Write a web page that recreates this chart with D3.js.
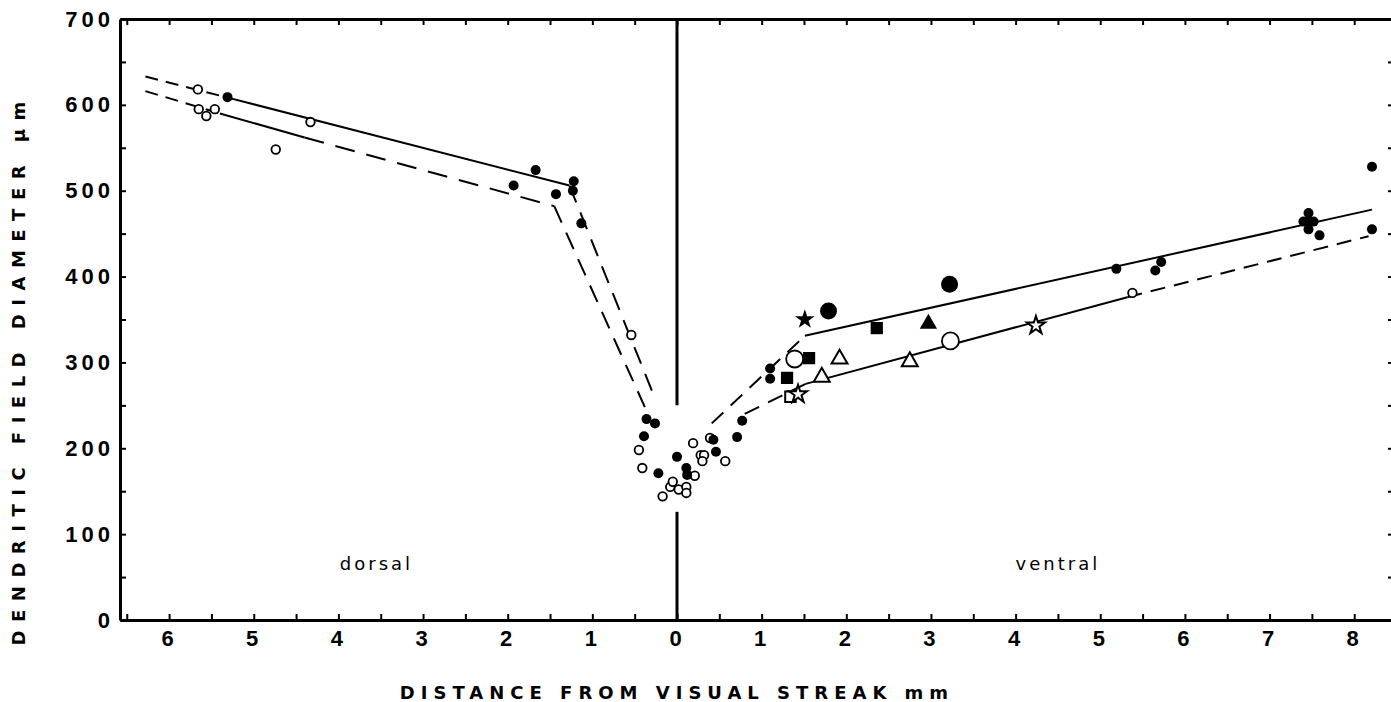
<!DOCTYPE html>
<html lang="en">
<head>
<meta charset="UTF-8">
<title>Dendritic field diameter vs distance from visual streak</title>
<script src="https://d3js.org/d3.v7.min.js"></script>
<style>
  body { margin: 0; background: #fff; }
  svg { display: block; font-family: "DejaVu Sans", sans-serif; }
  .axis path.domain { stroke: #000; stroke-width: 3; }
  .axis .tick line { stroke: #000; stroke-width: 2; }
  .labels path.domain { display: none; }
  .labels text { font-size: 22px; font-weight: bold; letter-spacing: 4px; fill: #000; }
  .title { font-size: 18px; font-weight: bold; fill: #000; }
  .region { font-size: 18px; letter-spacing: 3px; fill: #000; }
  .fit { fill: none; stroke: #000; }
</style>
</head>
<body>
<div id="chart"></div>
<script>
  // distance in mm: dorsal side negative, ventral side positive
  const xTickValues = [-6, -5, -4, -3, -2, -1, 0, 1, 2, 3, 4, 5, 6, 7, 8];
  const xTickLabels = ["6", "5", "4", "3", "2", "1", "0", "1", "2", "3", "4", "5", "6", "7", "8"];
  const yTickValues = [0, 100, 200, 300, 400, 500, 600, 700];

  const smallFilled = [
    [-5.31, 609], [-1.93, 506], [-1.67, 524], [-1.43, 496], [-1.22, 511], [-1.23, 500], [-1.13, 462],
    [-0.39, 214], [-0.36, 234], [-0.26, 229], [-0.22, 171],
    [0.00, 190], [0.11, 177], [0.12, 169], [0.43, 210], [0.46, 196], [0.71, 213], [0.77, 232],
    [1.10, 293], [1.10, 281],
    [5.19, 409], [5.65, 407], [5.72, 417],
    [7.46, 474], [7.40, 464], [7.46, 464], [7.52, 464], [7.46, 455], [7.59, 448],
    [8.21, 528], [8.21, 455]
  ];
  const smallOpen = [
    [-5.66, 618], [-5.65, 595], [-5.56, 587], [-5.46, 595], [-4.74, 548], [-4.33, 580], [-0.54, 332],
    [-0.45, 198], [-0.41, 177], [-0.17, 144], [-0.08, 155], [-0.05, 161], [0.02, 152], [0.11, 155],
    [0.11, 148], [0.21, 168], [0.19, 206], [0.28, 192], [0.32, 192], [0.30, 185], [0.39, 212],
    [0.57, 185], [5.38, 381]
  ];
  const bigFilled = [[1.79, 360], [3.22, 391]];
  const bigOpen = [[1.39, 304], [3.23, 325]];
  const filledSquares = [[1.30, 282], [1.56, 305], [2.36, 340]];
  const openSquares = [[1.34, 260]];
  const filledTriangles = [[2.97, 345]];
  const openTriangles = [[1.71, 283], [1.92, 304], [2.75, 301]];
  const filledStars = [[1.51, 350]];
  const openStars = [[1.43, 263], [4.24, 343]];

  // fitted lines, split where the pen changes from dashed to solid
  const dorsalUpperDash = [[-6.28, 633], [-5.33, 609]];
  const dorsalUpperSolid = [[-5.33, 609], [-1.27, 506]];
  const dorsalUpperDrop = [[-1.27, 506], [-0.26, 258]];
  const dorsalLowerDashA = [[-6.28, 616], [-5.40, 590]];
  const dorsalLowerSolid = [[-5.40, 590], [-4.40, 562]];
  const dorsalLowerDashB = [[-4.40, 562], [-1.45, 482]];
  const dorsalLowerDrop = [[-1.45, 482], [-0.38, 248]];
  const ventralUpperDash = [[0.41, 229], [1.51, 331]];
  const ventralUpperSolid = [[1.51, 331], [8.21, 478]];
  const ventralLowerDashA = [[0.80, 240], [1.52, 275]];
  const ventralLowerSolid = [[1.52, 275], [5.32, 376]];
  const ventralLowerDashB = [[5.32, 376], [8.17, 447]];
  const streakTop = [[0, 700], [0, 250]];
  const streakBottom = [[0, 126], [0, 0]];

  const svgWidth = 1391, svgHeight = 702;
  const margin = { left: 120, right: 1394, top: 19, bottom: 620 };

  const x = d3.scaleLinear().domain([-6.58, 8.47]).range([margin.left, margin.right]);
  const y = d3.scaleLinear().domain([0, 700]).range([margin.bottom, margin.top]);

  const svg = d3.select("#chart").append("svg")
    .attr("width", svgWidth)
    .attr("height", svgHeight);

  svg.append("rect").attr("width", svgWidth).attr("height", svgHeight).attr("fill", "#fff");

  const minorX = d3.range(-6.5, 8.01, 0.5);
  const minorY = d3.range(0, 701, 50);

  svg.append("g").attr("class", "axis")
    .attr("transform", `translate(0,${margin.bottom})`)
    .call(d3.axisBottom(x).tickValues(minorX).tickSizeInner(-6).tickSizeOuter(0).tickFormat(""));
  svg.append("g").attr("class", "axis")
    .attr("transform", `translate(0,${margin.top})`)
    .call(d3.axisTop(x).tickValues(minorX).tickSizeInner(-6).tickSizeOuter(0).tickFormat(""));
  svg.append("g").attr("class", "axis")
    .attr("transform", `translate(${margin.left},0)`)
    .call(d3.axisLeft(y).tickValues(minorY).tickSizeInner(-6).tickSizeOuter(0).tickFormat(""));
  svg.append("g").attr("class", "axis")
    .attr("transform", `translate(${margin.right},0)`)
    .call(d3.axisRight(y).tickValues(minorY).tickSizeInner(-6).tickSizeOuter(0).tickFormat(""));

  svg.append("g").attr("class", "labels")
    .attr("transform", `translate(0,${margin.bottom})`)
    .call(d3.axisBottom(x).tickValues(xTickValues).tickSize(0).tickPadding(10)
      .tickFormat((d, i) => xTickLabels[i]))
    .selectAll(".tick line").remove();
  svg.append("g").attr("class", "labels")
    .attr("transform", `translate(${margin.left},0)`)
    .call(d3.axisLeft(y).tickValues(yTickValues).tickSize(0).tickPadding(6))
    .selectAll(".tick line").remove();

  // visual streak line
  const line = d3.line().x(d => x(d[0])).y(d => y(d[1]));
  [streakTop, streakBottom].forEach(seg => {
    svg.append("path").datum(seg).attr("class", "fit")
      .style("stroke-width", 3).attr("d", line);
  });

  const segments = [
    [dorsalUpperDash, "13 8"], [dorsalUpperSolid, null], [dorsalUpperDrop, "18 11"],
    [dorsalLowerDashA, "13 8"], [dorsalLowerSolid, null], [dorsalLowerDashB, "20 12"], [dorsalLowerDrop, "18 11"],
    [ventralUpperDash, "16 10"], [ventralUpperSolid, null],
    [ventralLowerDashA, "16 10"], [ventralLowerSolid, null], [ventralLowerDashB, "15 9"]
  ];
  segments.forEach(([seg, dash]) => {
    svg.append("path").datum(seg).attr("class", "fit")
      .style("stroke-width", 2)
      .attr("stroke-dasharray", dash).attr("d", line);
  });

  // markers
  function circles(data, r, filled) {
    svg.append("g").selectAll("circle").data(data).join("circle")
      .attr("cx", d => x(d[0])).attr("cy", d => y(d[1])).attr("r", r)
      .attr("fill", filled ? "#000" : "#fff")
      .attr("stroke", "#000").attr("stroke-width", filled ? 0 : 1.8);
  }
  function symbols(data, type, size, filled) {
    svg.append("g").selectAll("path").data(data).join("path")
      .attr("transform", d => `translate(${x(d[0])},${y(d[1])})`)
      .attr("d", d3.symbol().type(type).size(size))
      .attr("fill", filled ? "#000" : "#fff")
      .attr("stroke", "#000").attr("stroke-width", filled ? 0 : 2)
      .attr("stroke-linejoin", "miter");
  }
  circles(smallOpen, 4.3, false);
  circles(smallFilled, 5, true);
  circles(bigOpen, 8.5, false);
  circles(bigFilled, 8.5, true);
  symbols(filledSquares, d3.symbolSquare, 150, true);
  symbols(openSquares, d3.symbolSquare, 110, false);
  symbols(filledTriangles, d3.symbolTriangle, 130, true);
  symbols(openTriangles, d3.symbolTriangle, 110, false);
  symbols(filledStars, d3.symbolStar, 120, true);
  symbols(openStars, d3.symbolStar, 100, false);

  // region labels
  svg.append("text").attr("class", "region")
    .attr("x", x(-3.55)).attr("y", y(66)).attr("dy", "0.35em")
    .attr("text-anchor", "middle").text("dorsal");
  svg.append("text").attr("class", "region")
    .attr("x", x(4.5)).attr("y", y(66)).attr("dy", "0.35em")
    .attr("text-anchor", "middle").text("ventral");

  // axis titles
  svg.append("text").attr("class", "title")
    .attr("x", x(0)).attr("y", 699)
    .attr("text-anchor", "middle")
    .style("letter-spacing", "6px")
    .text("DISTANCE FROM VISUAL STREAK mm");
  svg.append("text").attr("class", "title")
    .attr("transform", `translate(25,${y(292)}) rotate(-90)`)
    .attr("text-anchor", "middle")
    .style("letter-spacing", "8.5px")
    .text("DENDRITIC FIELD DIAMETER µm");
</script>
</body>
</html>
